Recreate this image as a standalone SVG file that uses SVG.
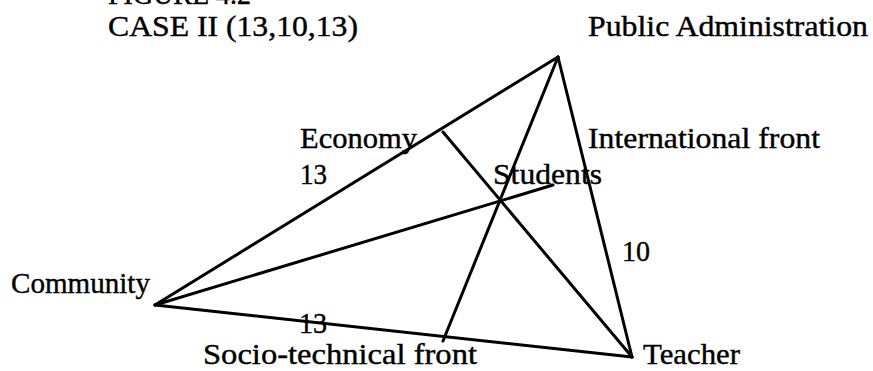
<svg xmlns="http://www.w3.org/2000/svg" width="873" height="371" viewBox="0 0 873 371">
<style>
text{font-family:"Liberation Serif","Times New Roman",serif;font-size:30px;fill:#000;stroke:#000;stroke-width:0.4}
.c line{stroke:#000;stroke-width:3;stroke-linecap:round}
</style>
<rect width="873" height="371" fill="#fff"/>
<text x="108" y="4" textLength="143" lengthAdjust="spacingAndGlyphs">FIGURE 4.2</text>
<text x="108" y="36" textLength="250" lengthAdjust="spacingAndGlyphs">CASE II (13,10,13)</text>
<g class="c" id="connectors">
<line x1="558" y1="57" x2="155" y2="305"/>
<line x1="558" y1="57" x2="632" y2="357"/>
<line x1="155" y1="305" x2="632" y2="357"/>
<line x1="443" y1="132" x2="632" y2="357"/>
<line x1="155" y1="305" x2="553" y2="185"/>
<line x1="443" y1="341" x2="558" y2="57"/>
</g>
<g id="public-administration"><text x="588" y="36" textLength="280" lengthAdjust="spacingAndGlyphs">Public Administration</text></g>
<g id="economy"><text x="300" y="148" textLength="117" lengthAdjust="spacingAndGlyphs">Economy</text></g>
<g id="international-front"><text x="588" y="148" textLength="232" lengthAdjust="spacingAndGlyphs">International front</text></g>
<g id="students"><text x="493" y="184" textLength="109" lengthAdjust="spacingAndGlyphs">Students</text></g>
<g id="community"><text x="11" y="293" textLength="139" lengthAdjust="spacingAndGlyphs">Community</text></g>
<g id="socio-technical-front"><text x="203" y="364" textLength="274" lengthAdjust="spacingAndGlyphs">Socio-technical front</text></g>
<g id="teacher"><text x="643" y="364" textLength="97" lengthAdjust="spacingAndGlyphs">Teacher</text></g>
<g id="labels">
<text x="300" y="184" textLength="27" lengthAdjust="spacingAndGlyphs">13</text>
<text x="622" y="261" textLength="28" lengthAdjust="spacingAndGlyphs">10</text>
<text x="299" y="333" textLength="28" lengthAdjust="spacingAndGlyphs">13</text>
</g>
</svg>
